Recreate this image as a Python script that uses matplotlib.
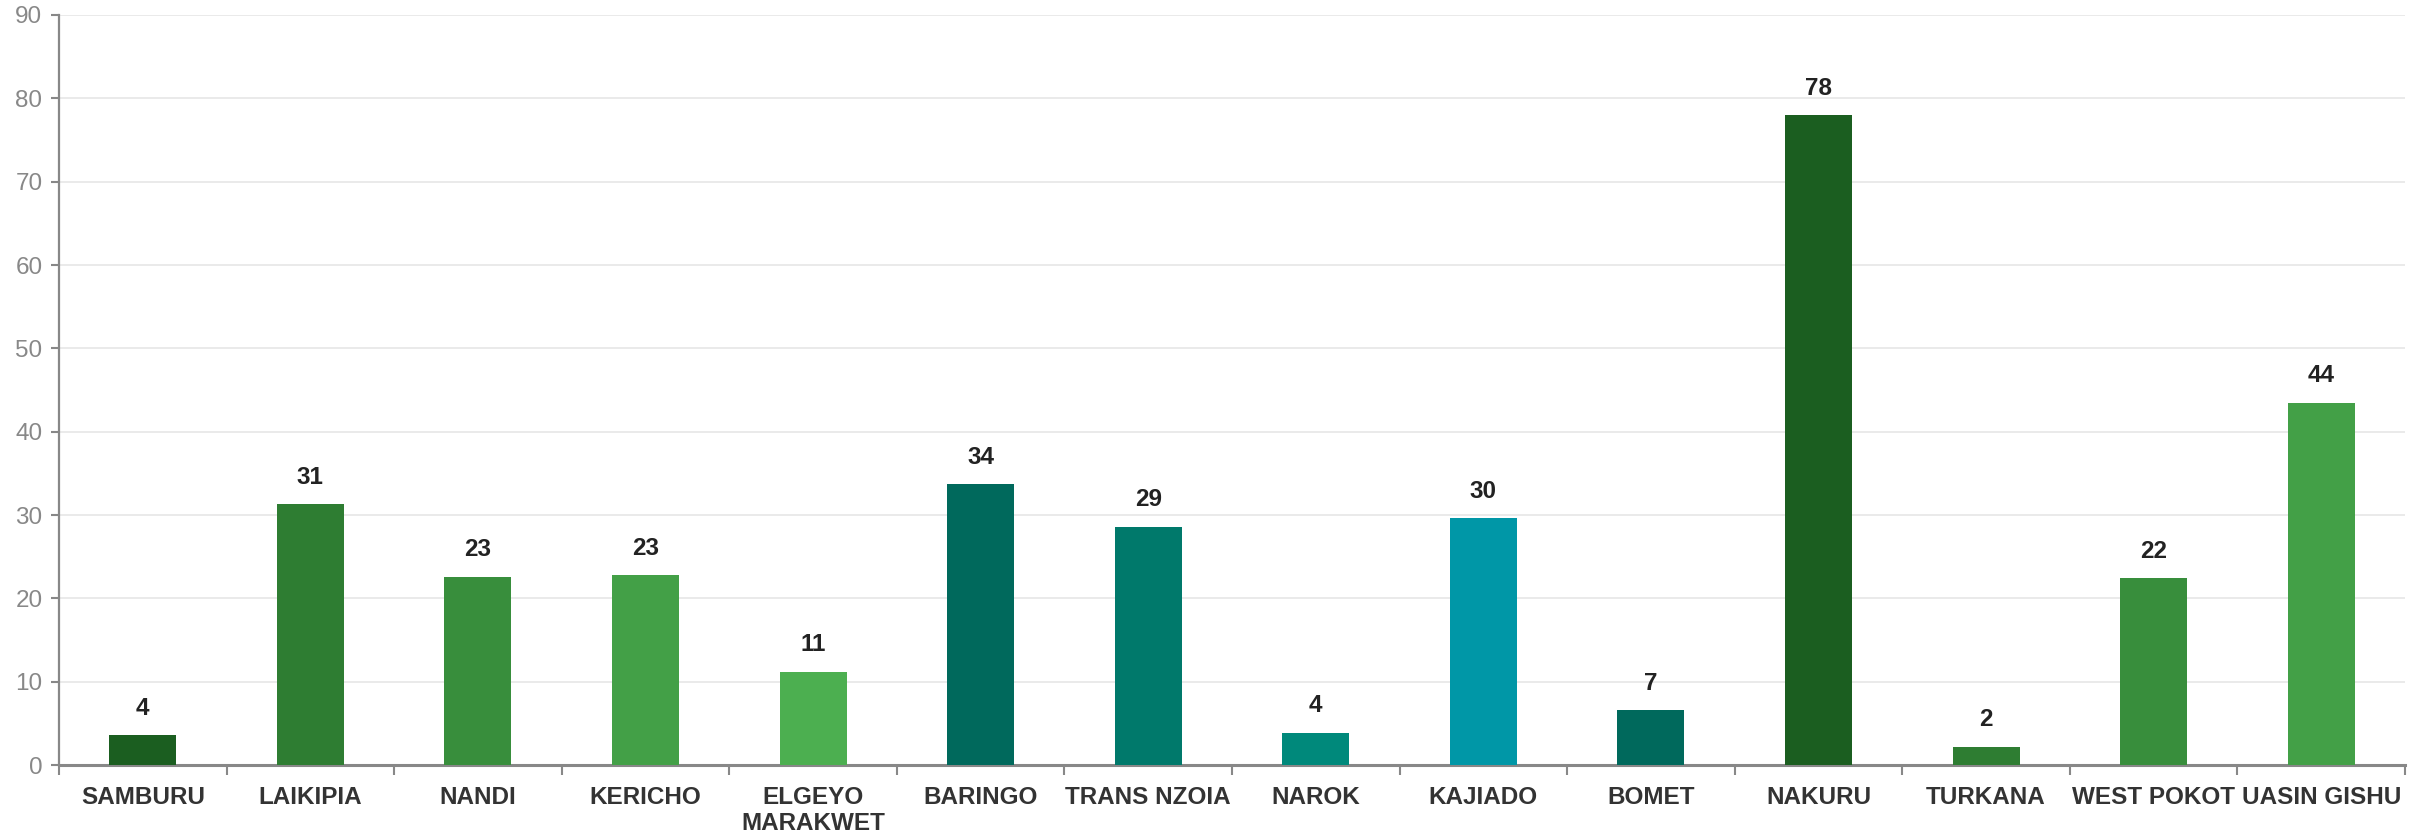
import numpy as np
import matplotlib
matplotlib.use("Agg")
import matplotlib.pyplot as plt
from matplotlib.ticker import FixedLocator

plt.rcParams["font.family"] = ["Liberation Sans", "DejaVu Sans"]

counties = ["SAMBURU", "LAIKIPIA", "NANDI", "KERICHO", "ELGEYO\nMARAKWET",
            "BARINGO", "TRANS NZOIA", "NAROK", "KAJIADO", "BOMET",
            "NAKURU", "TURKANA", "WEST POKOT", "UASIN GISHU"]
values = [3.6, 31.3, 22.6, 22.8, 11.2, 33.7, 28.6, 3.9, 29.6, 6.6,
          78.0, 2.2, 22.4, 43.5]
colors = ["#1B5E20", "#2E7D32", "#388E3C", "#43A047", "#4CAF50",
          "#00695C", "#00796B", "#00897B", "#0097A7", "#00695C",
          "#1B5E20", "#2E7D32", "#388E3C", "#43A047"]
yticks = list(range(0, 100, 10))

fig = plt.figure(figsize=(24.2, 8.33), dpi=100)
ax = fig.add_axes([0.0244, 0.0816, 0.9694, 0.9004])

x = np.arange(len(counties))
bars = ax.bar(x, values, width=0.4, color=colors, zorder=3)

for xi, v in zip(x, values):
    ax.annotate(f"{v:.0f}", (xi, v), xytext=(0, 11), textcoords="offset points",
                ha="center", va="bottom", fontsize=17.5, fontweight="bold",
                color="#222222")

ax.set_xlim(-0.5, len(counties) - 0.5)
ax.set_ylim(0, 90)
ax.set_yticks(yticks)
ax.set_xticks(x)
ax.set_xticklabels(counties, fontsize=17.5, fontweight="bold", color="#333333",
                   linespacing=1.2)
ax.xaxis.set_minor_locator(FixedLocator(np.arange(-0.5, len(counties), 1.0)))
ax.tick_params(axis="x", which="major", length=0, pad=15)
ax.tick_params(axis="x", which="minor", length=7, width=1.5, color="#888888")
ax.tick_params(axis="y", length=6, width=1.5, color="#888888",
               labelcolor="#888888", labelsize=17.5, pad=6)

ax.grid(axis="y", color="#e6e6e6", linewidth=1.2, zorder=0)
for side in ["top", "right"]:
    ax.spines[side].set_visible(False)
ax.spines["left"].set_color("#888888")
ax.spines["left"].set_linewidth(1.6)
ax.spines["bottom"].set_color("#888888")
ax.spines["bottom"].set_linewidth(2.2)

fig.savefig("out.png", dpi=100)
